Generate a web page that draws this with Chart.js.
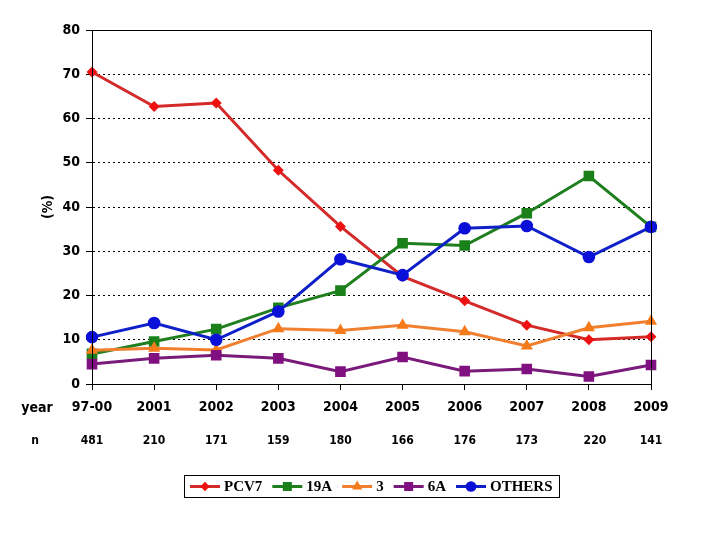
<!DOCTYPE html>
<html><head><meta charset="utf-8">
<script src="https://cdn.jsdelivr.net/npm/chart.js@4"></script>
<style>html,body{margin:0;padding:0;background:#fff}</style>
</head><body>
<canvas id="c" width="720" height="540"></canvas>
<script>
const years = ['97-00','2001','2002','2003','2004','2005','2006','2007','2008','2009'];
const nValues = ['481','210','171','159','180','166','176','173','220','141'];
const pcv7 = [70.5,62.7,63.5,48.3,35.6,24.3,18.8,13.3,10.0,10.7];
const s19A = [6.8,9.6,12.4,17.2,21.1,31.8,31.3,38.6,47.0,35.5];
const s3 = [7.6,8.1,7.7,12.5,12.1,13.3,11.8,8.6,12.7,14.2];
const s6A = [4.5,5.8,6.5,5.8,2.8,6.1,2.9,3.4,1.7,4.3];
const others = [10.6,13.8,10.0,16.4,28.2,24.6,35.2,35.7,28.7,35.5];
const seriesNames = ['PCV7','19A','3','6A','OTHERS'];
const yMin = 0, yMax = 80, yStep = 10;

const NARROW = "'Liberation Sans Narrow','DejaVu Sans Condensed','Liberation Sans',sans-serif";
const SERIF = "'Liberation Serif','DejaVu Serif',serif";

const styles = [
  {line:'#d42a2a', fill:'#ee1111', ps:'rectRot', r:5.5},
  {line:'#1f7f1f', fill:'#1a801a', ps:'rect', r:7.5},
  {line:'#f08030', fill:'#f57a1a', ps:'triangle', r:7},
  {line:'#7a1a7a', fill:'#80107f', ps:'rect', r:7.5},
  {line:'#1020c8', fill:'#0a10d8', ps:'circle', r:6.3}
];
const allData = [pcv7, s19A, s3, s6A, others];

const datasets = allData.map((d, i) => ({
  label: seriesNames[i],
  data: d,
  borderColor: styles[i].line,
  backgroundColor: styles[i].fill,
  pointBackgroundColor: styles[i].fill,
  pointBorderColor: styles[i].fill,
  pointBorderWidth: 0,
  pointStyle: styles[i].ps,
  pointRadius: styles[i].r,
  borderWidth: 3,
  tension: 0,
  order: 5 - i
}));

const extras = {
  id: 'extras',
  afterDraw(chart) {
    const ctx = chart.ctx;
    const a = chart.chartArea;
    const xs = chart.scales.x;
    ctx.save();
    ctx.strokeStyle = '#000';
    ctx.lineWidth = 1;
    ctx.setLineDash([]);
    ctx.strokeRect(Math.round(a.left) + 0.5, Math.round(a.top) + 0.5, Math.round(a.right - a.left), Math.round(a.bottom - a.top));
    ctx.fillStyle = '#000';
    ctx.textBaseline = 'middle';
    ctx.textAlign = 'center';
    ctx.font = 'bold 14px ' + NARROW;
    ctx.fillText('year', 37, a.bottom + 24);
    ctx.font = 'bold 12px ' + NARROW;
    ctx.fillText('n', 35, a.bottom + 57);
    nValues.forEach((v, i) => {
      ctx.fillText(v, xs.getPixelForValue(i) + (i === 8 ? 6 : 0), a.bottom + 57);
    });
    // legend
    ctx.font = 'bold 15px ' + SERIF;
    const sample = 30, gap1 = 4, gap2 = 10;
    const widths = seriesNames.map(n => ctx.measureText(n).width);
    let total = 6;
    widths.forEach(w => total += sample + gap1 + w + gap2);
    total -= 4;
    const cx = (a.left + a.right) / 2;
    const bx = Math.round(cx - total / 2), by = 475, bh = 22;
    ctx.strokeStyle = '#000';
    ctx.lineWidth = 1;
    ctx.strokeRect(bx + 0.5, by + 0.5, Math.round(total), bh);
    let x = bx + 6;
    const cy = by + bh / 2 + 0.5;
    seriesNames.forEach((n, i) => {
      const st = styles[i];
      ctx.strokeStyle = st.line;
      ctx.lineWidth = 3;
      ctx.beginPath(); ctx.moveTo(x, cy); ctx.lineTo(x + sample, cy); ctx.stroke();
      ctx.fillStyle = st.fill;
      Chart.helpers.drawPoint(ctx, {pointStyle: st.ps, radius: st.r * 0.85, rotation: 0, borderWidth: 0}, x + sample / 2, cy);
      x += sample + gap1;
      ctx.fillStyle = '#000';
      ctx.textAlign = 'left';
      ctx.fillText(n, x, cy + 1);
      x += widths[i] + gap2;
    });
    ctx.restore();
  }
};

new Chart(document.getElementById('c'), {
  type: 'line',
  data: { labels: years, datasets },
  options: {
    responsive: false,
    animation: false,
    devicePixelRatio: 1,
    layout: { padding: { left: 0, top: 30, right: 69, bottom: 80 } },
    plugins: { legend: { display: false }, tooltip: { enabled: false } },
    scales: {
      x: {
        type: 'category',
        offset: false,
        afterFit(s) { s.height = 76; },
        grid: { drawOnChartArea: false, tickLength: 6, color: '#000', tickColor: '#000' },
        border: { color: '#000', width: 1 },
        ticks: { color: '#000', font: { family: NARROW, size: 14, weight: 'bold' }, padding: 9, maxRotation: 0, autoSkip: false }
      },
      y: {
        min: yMin, max: yMax,
        afterFit(s) { s.width = 92; },
        ticks: { stepSize: yStep, color: '#000', padding: 6, font: { family: NARROW, size: 14, weight: 'bold' } },
        grid: {
          color: c => (c.tick && (c.tick.value === yMin || c.tick.value === yMax)) ? 'rgba(0,0,0,0)' : '#000',
          tickColor: '#000', tickLength: 6, tickBorderDash: []
        },
        border: { color: '#000', width: 1, dash: [2, 3] },
        title: { display: true, text: '(%)', color: '#000', font: { family: NARROW, size: 14, weight: 'bold' }, padding: { top: 40, bottom: 0 } }
      }
    }
  },
  plugins: [extras]
});
</script>
</body></html>
